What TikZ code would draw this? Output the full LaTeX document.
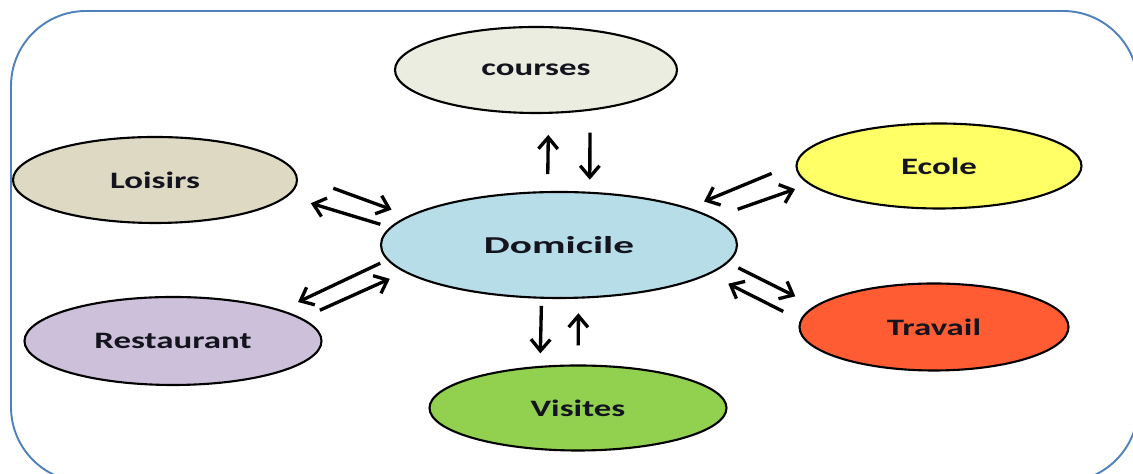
\documentclass[tikz,border=0pt]{standalone}
\usepackage{fontspec}
\setmainfont{Carlito}
\usepackage{graphicx}
\usetikzlibrary{shapes.geometric,arrows.meta}
\definecolor{cDom}{RGB}{183,221,232}
\definecolor{cCour}{RGB}{235,237,224}
\definecolor{cLois}{RGB}{221,217,195}
\definecolor{cRest}{RGB}{204,192,218}
\definecolor{cEcol}{RGB}{255,255,102}
\definecolor{cTrav}{RGB}{255,92,51}
\definecolor{cVisi}{RGB}{146,208,80}
\definecolor{cadre}{RGB}{79,129,189}
\definecolor{txt}{RGB}{20,20,30}

\begin{document}
\begin{tikzpicture}[
    bulle/.style={ellipse,draw=black,line width=1.2pt,inner sep=0pt,text=txt,
        font=\fontsize{13.4}{15}\selectfont\bfseries},
    fl/.style={->,line width=1.9pt},
    >={Straight Barb[length=6.5pt,width=11pt]}]
    \useasboundingbox (0,0) rectangle (22.66,9.48);
    \clip (0,0) rectangle (22.66,9.48);
    \draw[cadre,line width=1.1pt,rounded corners=1.5cm] (0.22,-0.16) rectangle (22.76,9.26);
    
    \node[bulle,fill=cDom,minimum width=7.12cm,minimum height=2.12cm,
        font=\fontsize{13.8}{16}\selectfont\bfseries] (dom) at (11.18,4.58) {\scalebox{1.7}[1]{Domicile}};
    \node[bulle,fill=cCour,minimum width=5.64cm,minimum height=1.72cm] (cour) at (10.72,8.08) {\scalebox{1.48}[1]{courses}};
    \node[bulle,fill=cLois,minimum width=5.68cm,minimum height=1.72cm] (lois) at (3.10,5.88) {\scalebox{1.48}[1]{Loisirs}};
    \node[bulle,fill=cRest,minimum width=5.94cm,minimum height=1.76cm] (rest) at (3.46,2.66) {\scalebox{1.48}[1]{Restaurant}};
    \node[bulle,fill=cEcol,minimum width=5.70cm,minimum height=1.70cm] (ecol) at (18.78,6.16) {\scalebox{1.48}[1]{Ecole}};
    \node[bulle,fill=cTrav,minimum width=5.38cm,minimum height=1.74cm] (trav) at (18.68,2.94) {\scalebox{1.48}[1]{Travail}};
    \node[bulle,fill=cVisi,minimum width=5.94cm,minimum height=1.70cm] (visi) at (11.56,1.32) {\scalebox{1.48}[1]{Visites}};
    
    \draw[fl,shorten <=0.34cm,shorten >=0.42cm] (dom.102) -- (cour.286);
    \draw[fl,shorten <=0.44cm,shorten >=0.24cm] (cour.323) -- (dom.60);
    
    \draw[fl,shorten <=0.14cm,shorten >=0.25cm] (dom.252) -- (visi.132);
    \draw[fl,shorten <=0.38cm,shorten >=0.29cm] (visi.90) -- (dom.290);
    
    \draw[fl,shorten <=0.77cm,shorten >=0.36cm] (lois.2) -- (dom.169);
    \draw[fl,shorten <=0.20cm,shorten >=0.48cm] (dom.174) -- (lois.353);
    
    \draw[fl,shorten <=0.15cm,shorten >=0.37cm] (dom.185) -- (rest.16);
    \draw[fl,shorten <=0.39cm,shorten >=0.32cm] (rest.10) -- (dom.190);
    
    \draw[fl,shorten <=0.52cm,shorten >=0.33cm] (ecol.179) -- (dom.16);
    \draw[fl,shorten <=0.51cm,shorten >=0.29cm] (dom.10) -- (ecol.188);
    
    \draw[fl,shorten <=0.23cm,shorten >=0.43cm] (dom.354) -- (trav.170);
    \draw[fl,shorten <=0.38cm,shorten >=0.42cm] (trav.177) -- (dom.349);
\end{tikzpicture}
\end{document}
